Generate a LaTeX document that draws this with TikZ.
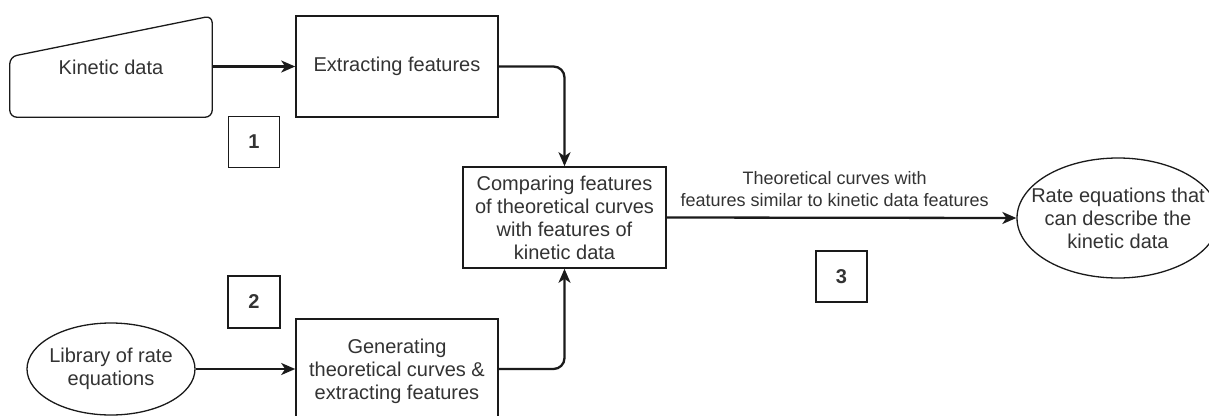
\documentclass[tikz,border=0pt]{standalone}
\usepackage{fontspec}
\setmainfont{Liberation Sans}
\usetikzlibrary{arrows.meta,shapes.geometric}
\definecolor{ink}{HTML}{1A1A1A}
\definecolor{txt}{HTML}{333333}
\tikzset{
  every node/.style={text=txt},
  procbox/.style={draw=ink, line width=1.6pt, rectangle, minimum width=202pt,
    minimum height=101pt, inner sep=0pt, align=center,
    font=\fontsize{20}{23}\selectfont},
  numbox/.style={draw=ink, line width=1.6pt, rectangle, minimum width=51pt,
    minimum height=51pt, inner sep=0pt, font=\bfseries\fontsize{20}{23}\selectfont},
  oval/.style={draw=ink, line width=1.3pt, ellipse, inner sep=0pt},
  ovaltext/.style={align=center, inner sep=0pt, font=\fontsize{20}{23}\selectfont},
  flow/.style={draw=ink, line width=2.3pt, rounded corners=11pt,
    -{Stealth[length=14pt,width=12pt,inset=4pt]}},
  edgelabel/.style={align=center, inner sep=0pt, font=\fontsize{18}{22}\selectfont}
}
\begin{document}
\begin{tikzpicture}[x=1pt,y=-1pt]
  \useasboundingbox (0,0) rectangle (1209,415);
  \fill[white] (0,0) rectangle (1209,415);

  % manual input: kinetic data
  \node[minimum width=202pt, minimum height=101pt, inner sep=0pt] (kin) at (111,66.5) {};
  \node[ovaltext] (kinT) at (111,67) {Kinetic data};
  \draw[ink, line width=1.3pt, rounded corners=7pt]
    ([yshift=-41pt]kin.north west) -- (kin.north east) -- (kin.south east)
    -- (kin.south west) -- cycle;

  % process boxes
  \node[procbox] (ext) at (397,66.5) {Extracting features};
  \node[procbox, minimum width=203pt] (cmp) at (564.5,217.5)
    {Comparing features\\of theoretical curves\\with features of\\kinetic data};
  \node[procbox, minimum height=104pt] (gen) at (397,371)
    {Generating\\theoretical curves \&\\extracting features};

  % start / end ovals
  \node[oval, minimum width=168pt, minimum height=92pt] (lib) at (111,369) {};
  \node[ovaltext] (libT) at (111,369) {Library of rate\\equations};
  \node[oval, minimum width=202pt, minimum height=120pt] (rate) at (1118,218) {};
  \node[ovaltext] (rateT) at (1118,218) {Rate equations that\\can describe the\\kinetic data};

  % step numbers
  \node[numbox] (n1) at (254,142) {1};
  \node[numbox, minimum width=52pt, minimum height=52pt] (n2) at (254,302) {2};
  \node[numbox] (n3) at (841.5,276.5) {3};

  % connectors
  \draw[flow] (kin.east) -- (ext.west);
  \draw[flow] (ext.east) -| (cmp.north);
  \draw[flow] (lib.east) -- (gen.west |- lib.east);
  \draw[flow] (gen.east |- lib.east) -| (cmp.south);
  \draw[flow] (cmp.east) -- (rate.west)
    node[edgelabel, pos=0.48, above=10pt]
      {Theoretical curves with\\features similar to kinetic data features};
\end{tikzpicture}
\end{document}
